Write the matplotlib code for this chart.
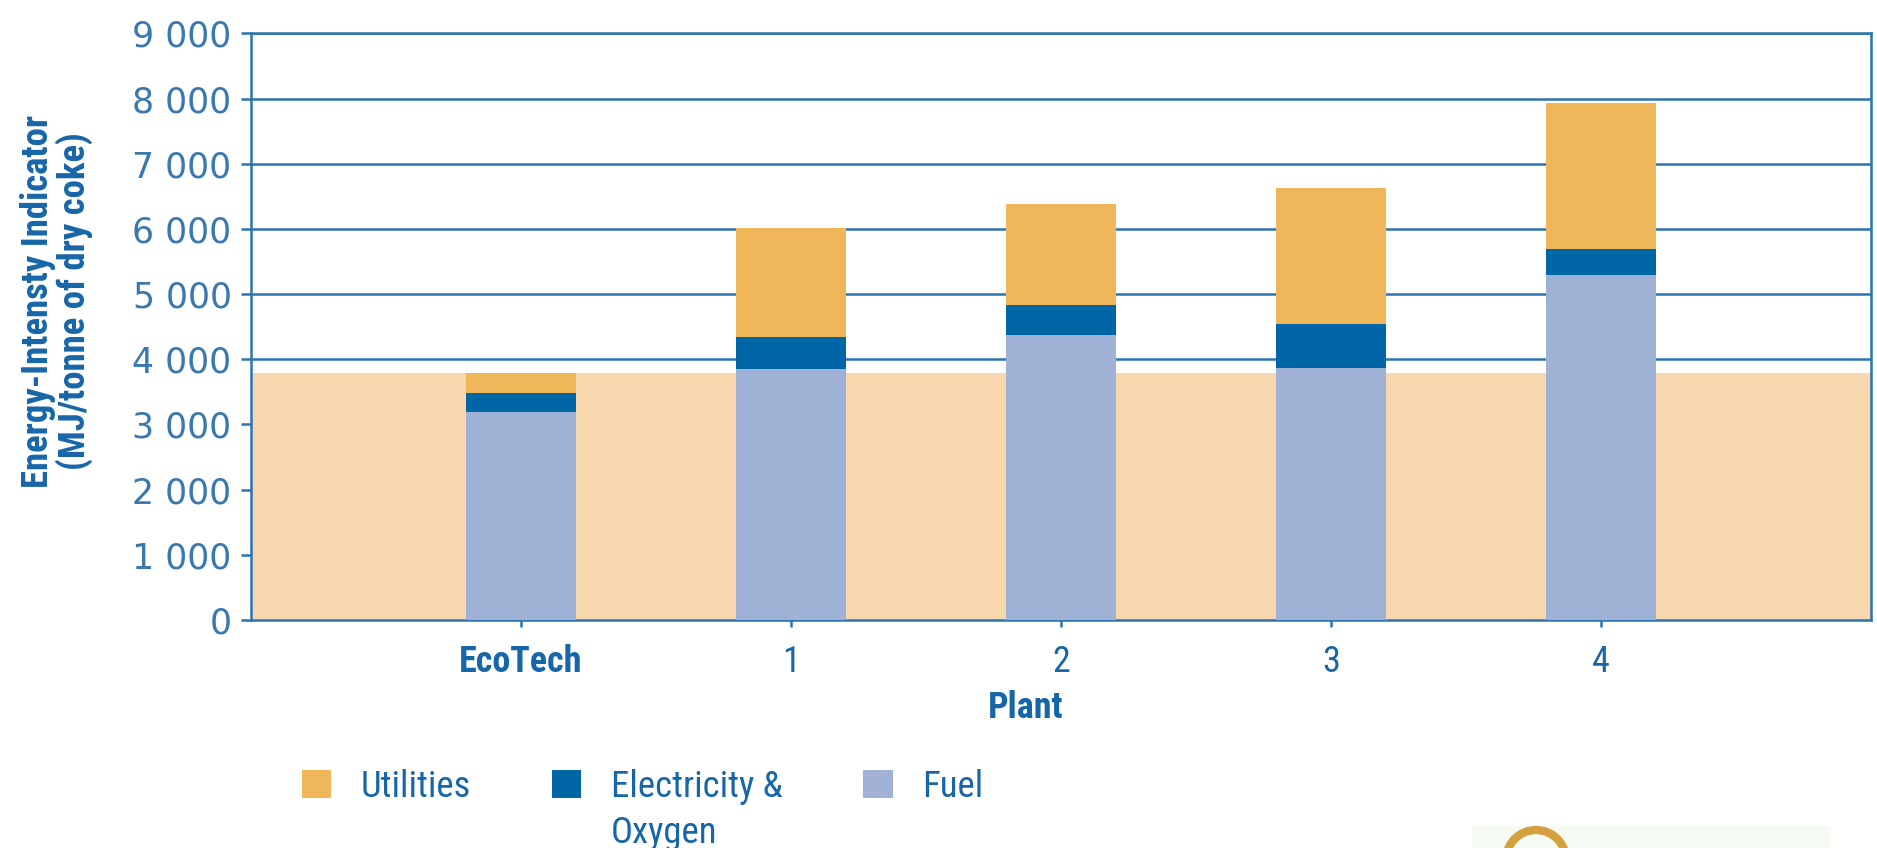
import matplotlib.pyplot as plt
import matplotlib.patches as mpatches
import numpy as np

# data (MJ / tonne of dry coke)
plants = ['EcoTech', '1', '2', '3', '4']
fuel = [3190, 3850, 4380, 3860, 5290]
electricity = [290, 490, 460, 680, 410]
utilities = [310, 1680, 1540, 2090, 2230]
ecotech_level = 3790
y_ticks = [0, 1000, 2000, 3000, 4000, 5000, 6000, 7000, 8000, 9000]

c_util = '#f0b65a'
c_elec = '#0066a6'
c_fuel = '#9fb2d5'
c_band = '#f7d8ae'
c_line = '#2a74b0'
c_text = '#1766a8'
c_tick = '#3a78b0'

narrow = ['Roboto Condensed', 'DejaVu Sans Condensed', 'DejaVu Sans']
cond = dict(family=narrow, stretch='condensed')

fig = plt.figure(figsize=(18.77, 8.48), dpi=100)
ax = fig.add_axes([0.1337, 0.2689, 0.8631, 0.6916])

x = np.arange(len(plants))
fuel = np.array(fuel)
electricity = np.array(electricity)
utilities = np.array(utilities)

w = 0.41
b_fuel = ax.bar(x, fuel, w, color=c_fuel, linewidth=0, zorder=3, label='Fuel')
b_elec = ax.bar(x, electricity, w, bottom=fuel, color=c_elec, linewidth=0,
                zorder=3, label='Electricity &')
b_util = ax.bar(x, utilities, w, bottom=fuel + electricity, color=c_util,
                linewidth=0, zorder=3, label='Utilities')

# shaded band at the EcoTech level
ax.axhspan(0, ecotech_level, color=c_band, linewidth=0, zorder=2)

ax.set_xlim(-1, 5)
ax.set_ylim(0, 9000)
ax.set_yticks(y_ticks)
ax.set_yticklabels([f'{v:,}'.replace(',', ' ') for v in y_ticks])
ax.yaxis.grid(True, color=c_line, linewidth=1.8, zorder=1)
ax.set_axisbelow(True)

for s in ax.spines.values():
    s.set_color(c_line)
    s.set_linewidth(1.8)

ax.tick_params(axis='y', colors=c_line, labelcolor=c_tick, length=7, width=1.8,
               pad=7, labelsize=25)
ax.tick_params(axis='x', colors=c_line, labelcolor=c_text, length=5, width=1.8,
               pad=12)
ax.set_xticks(x)
ax.set_xticklabels(plants, fontsize=26, **cond)
ax.get_xticklabels()[0].set_fontweight('bold')

ax.set_xlabel('Plant', fontsize=26, fontweight='bold', color=c_text, **cond)
ax.xaxis.set_label_coords(0.478, -0.12)
ax.xaxis.label.set_va('top')
fig.text(0.030, 0.645, 'Energy-Intensty Indicator\n(MJ/tonne of dry coke)',
         rotation=90, ha='center', va='center', multialignment='center',
         fontsize=26.5, fontweight='bold', color=c_text, linespacing=1.0, **cond)

leg = fig.legend(handles=[b_util, b_elec, b_fuel], loc='center left',
                 bbox_to_anchor=(0.143, 0.072), ncol=3, frameon=False,
                 prop=dict(size=26.5, **cond),
                 handlelength=0.8, handleheight=0.8, handletextpad=0.8,
                 columnspacing=2.2)
for t in leg.get_texts():
    t.set_color(c_text)

# second line of the "Electricity & Oxygen" entry
fig.canvas.draw()
bb = leg.get_texts()[1].get_window_extent().transformed(fig.transFigure.inverted())
fig.text(bb.x0, bb.y0 - 0.012, 'Oxygen', ha='left', va='top', fontsize=26.5,
         color=c_text, **cond)

# logo fragment at the bottom right
fig.add_artist(mpatches.Rectangle((14.72, 0.0), 3.59, 0.22, transform=fig.dpi_scale_trans,
                                  facecolor='#f5fbf3', edgecolor='none'))
fig.add_artist(mpatches.Circle((15.36, -0.12), 0.3, transform=fig.dpi_scale_trans,
                               facecolor='none', edgecolor='#d4a040', linewidth=6))

plt.savefig('out.png', dpi=100, facecolor='white')
